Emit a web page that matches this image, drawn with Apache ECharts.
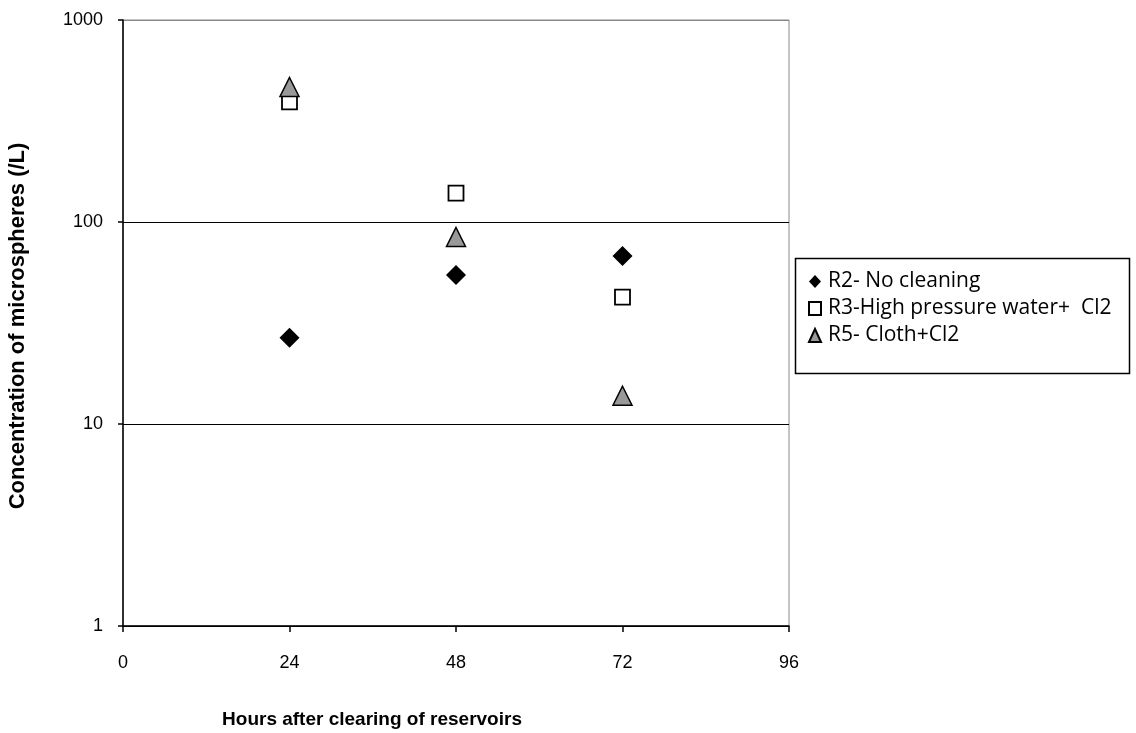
<!DOCTYPE html>
<html><head><meta charset="utf-8">
<script src="https://cdn.jsdelivr.net/npm/echarts@6/dist/echarts.min.js"></script>
<style>html,body{margin:0;padding:0;background:#fff}#c{width:1136px;height:733px}</style>
</head><body><div id="c"></div>
<script>
const hours = [24, 48, 72];
const r2 = [26.7, 54.7, 67.9];
const r3 = [393, 139, 42.5];
const r5 = [466, 84.3, 13.8];
const names = ['R2- No cleaning', 'R3-High pressure water+  Cl2', 'R5- Cloth+Cl2'];
const xTicks = [0, 24, 48, 72, 96];
const yTicks = [1, 10, 100, 1000];

const font = 'Liberation Sans, Arial, sans-serif';
const chart = echarts.init(document.getElementById('c'));
chart.setOption({
  animation: false,
  grid: {left: 123, right: 347, top: 20, bottom: 107, show: true, borderColor: '#888', borderWidth: 1},
  xAxis: {
    type: 'value', min: xTicks[0], max: xTicks[xTicks.length-1], interval: 24,
    axisLine: {lineStyle: {color: '#000', width: 1.5}},
    axisTick: {inside: false, length: 6, lineStyle: {color: '#000', width: 1.5}},
    axisLabel: {color: '#000', fontSize: 18, fontFamily: font, margin: 28},
    splitLine: {show: false}
  },
  yAxis: {
    type: 'log', logBase: 10, min: yTicks[0], max: yTicks[yTicks.length-1],
    axisLine: {show: true, lineStyle: {color: '#000', width: 1.5}},
    axisTick: {show: true, length: 5, lineStyle: {color: '#000', width: 1.5}},
    axisLabel: {color: '#000', fontSize: 18, fontFamily: font, margin: 20, formatter: v => String(Math.round(v))},
    splitLine: {show: true, lineStyle: {color: ['#000', '#000', '#000', '#888'], width: 1}}
  },
  legend: {
    orient: 'vertical', left: 808, top: 271, padding: 0,
    itemGap: 6, itemWidth: 12, itemHeight: 13,
    textStyle: {color: '#000', fontSize: 21, fontFamily: 'Open Sans, sans-serif', padding: [0, 0, 0, 2]},
    data: names
  },
  graphic: [
    {type: 'rect', shape: {x: 795.5, y: 258.5, width: 334, height: 115}, style: {fill: 'none', stroke: '#000', lineWidth: 1.5}, z: 1},
    {type: 'text', x: 372, y: 720, style: {text: 'Hours after clearing of reservoirs', fill: '#000', font: 'bold 19px ' + font, align: 'center', verticalAlign: 'middle'}},
    {type: 'text', x: 18, y: 326, rotation: Math.PI/2, style: {text: 'Concentration of microspheres (/L)', fill: '#000', font: 'bold 22px ' + font, align: 'center', verticalAlign: 'middle'}}
  ],
  series: [
    {name: names[0], type: 'scatter', symbol: 'diamond', symbolSize: 20,
     itemStyle: {color: '#000', opacity: 1}, data: hours.map((h, i) => [h, r2[i]])},
    {name: names[1], type: 'scatter', symbol: 'rect', symbolSize: 15,
     itemStyle: {color: '#fff', borderColor: '#000', borderWidth: 1.8, opacity: 1}, data: hours.map((h, i) => [h, r3[i]])},
    {name: names[2], type: 'scatter', symbol: 'triangle', symbolSize: 19,
     itemStyle: {color: '#999', borderColor: '#000', borderWidth: 1.5, opacity: 1}, data: hours.map((h, i) => [h, r5[i]])}
  ]
});
</script></body></html>
